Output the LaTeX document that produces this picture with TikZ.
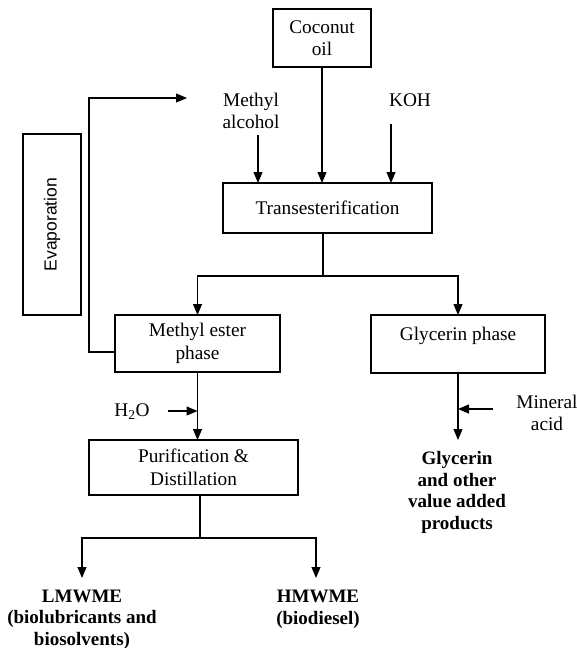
\documentclass[tikz,border=0pt]{standalone}
\usepackage{fontspec}
\setmainfont{Liberation Serif}
\setsansfont{Liberation Sans}
\usetikzlibrary{arrows.meta}
\begin{document}
\begin{tikzpicture}[x=1pt,y=-1pt,
  line width=1.2pt,
  every node/.style={inner sep=0pt,outer sep=0pt},
  txt/.style={align=center,font=\fontsize{19.3}{22.5}\selectfont},
  btxt/.style={align=center,font=\fontsize{19}{21.5}\selectfont\bfseries},
  box/.style={draw,line width=1.2pt,txt},
  arr/.style={-{Triangle[length=11pt,width=9pt]}}]
\useasboundingbox (0,0) rectangle (577,648);

% process boxes
\node[box,minimum width=98pt,minimum height=58pt] (coconut) at (322,38) {Coconut\\oil};
\node[box,minimum width=209pt,minimum height=50pt] (trans) at (327.5,208) {Transesterification};
\node[box,minimum width=165pt,minimum height=57pt] (mester) at (197.5,343.5) {Methyl ester\\phase};
\node[box,minimum width=174pt,minimum height=58pt] (gphase) at (458,344) {};
\node[txt] (gphasetext) at (458,336) {Glycerin phase};
\node[box,minimum width=209pt,minimum height=55pt] (purif) at (193.5,467.5) {Purification \&\\Distillation};
\node[draw,line width=1.2pt,minimum width=58pt,minimum height=181pt] (evap) at (52,224.5) {};
\node[rotate=90,font=\sffamily\fontsize{17.5}{20}\selectfont] (evaptext) at (52,224.5) {Evaporation};

% feed labels
\node[txt] (malc) at (251,111) {Methyl\\alcohol};
\node[txt] (koh) at (410,100) {KOH};
\node[txt] (water) at (132,412) {H\textsubscript{2}O};
\node[txt] (acid) at (547,413) {Mineral\\acid};

% products
\node[btxt] (glyc) at (457,492.5) {Glycerin\\and other\\value added\\products};
\node[btxt] (lmwme) at (82,619.5) {LMWME\\(biolubricants and\\biosolvents)};
\node[btxt] (hmwme) at (318,609.5) {HMWME\\(biodiesel)};

% helper points for the flow lines
\coordinate (maTop) at (258,135);
\coordinate (kohTop) at (391,124);
\coordinate (split) at (323,276);
\coordinate (loopCorner) at (89,98);
\coordinate (loopEnd) at (187,98);
\coordinate (waterTail) at (168,411);
\coordinate (acidTail) at (493,409);
\coordinate (glycTip) at (458,440);
\coordinate (prodSplit) at (200,538);
\coordinate (lmTip) at (82,578);
\coordinate (hmTip) at (316,578);

% reactants into transesterification
\draw[arr] (coconut.south) -- (coconut.south |- trans.north);
\draw[arr] (maTop) -- (maTop |- trans.north);
\draw[arr] (kohTop) -- (kohTop |- trans.north);

% phase separation
\draw (split |- trans.south) -- (split);
\draw[arr] (split) -| (mester.north);
\draw[arr] (split) -| (gphase.north);

% methanol recovery loop
\draw[arr] ([yshift=-8.5pt]mester.west) -| (loopCorner) -- (loopEnd);

% washing and purification
\draw[arr] (mester.south) -- (mester.south |- purif.north);
\draw[arr] (waterTail) -- (waterTail -| mester.south);

% glycerin treatment
\draw[arr] (gphase.south) -- (glycTip);
\draw[arr] (acidTail) -- (acidTail -| gphase.south);

% distillation products
\draw (prodSplit |- purif.south) -- (prodSplit);
\draw[arr] (prodSplit) -| (lmTip);
\draw[arr] (prodSplit) -| (hmTip);
\end{tikzpicture}
\end{document}
